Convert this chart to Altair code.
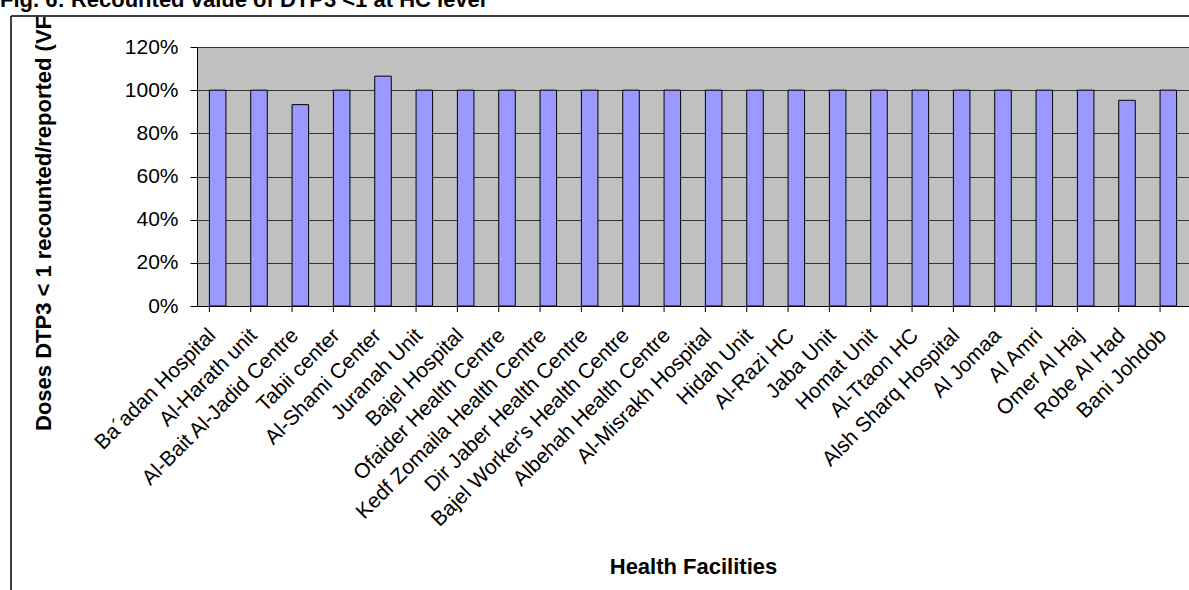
import altair as alt
import pandas as pd

FACILITIES = [
    "Ba´adan Hospital", "Al-Harath unit", "Al-Bait Al-Jadid Centre", "Tabii center",
    "Al-Shami Center", "Juranah Unit", "Bajel Hospital", "Ofaider Health Centre",
    "Kedf Zomaila Health Centre", "Dir Jaber Health Centre", "Bajel Worker's Health Centre",
    "Albehah Health Centre", "Al-Misrakh Hospital", "Hidah Unit", "Al-Razi HC", "Jaba Unit",
    "Homat Unit", "Al-Ttaon HC", "Alsh Sharq Hospital", "Al Jomaa", "Al Amri",
    "Omer Al Haj", "Robe Al Had", "Bani Johdob",
]
RATIO = [1.00, 1.00, 0.933, 1.00, 1.065, 1.00, 1.00, 1.00, 1.00, 1.00, 1.00, 1.00,
         1.00, 1.00, 1.00, 1.00, 1.00, 1.00, 1.00, 1.00, 1.00, 1.00, 0.953, 1.00]
Y_TICKS = [0, 0.2, 0.4, 0.6, 0.8, 1.0, 1.2]
FIG_TITLE = "Fig. 6: Recounted value of DTP3 <1 at HC level"
Y_TITLE = "Doses DTP3 < 1 recounted/reported (VF)"
X_TITLE = "Health Facilities"

FONT = "Liberation Sans"
W, H = 992, 259

df = pd.DataFrame({"facility": FACILITIES, "ratio": RATIO})
one = pd.DataFrame({"t": [0]})

xscale = alt.Scale(paddingInner=0.6, paddingOuter=0.3)
xaxis = alt.Axis(title=X_TITLE, labelAngle=-45, labelAlign="right",
                 labelBaseline="middle", labelPadding=26, labelOffset=-5, labelFontSize=21,
                 labelFont=FONT, labelColor="#000000", ticks=False,
                 domainColor="#000000", labelLimit=0,
                 titleFont=FONT, titleFontSize=22, titleFontWeight="bold",
                 titleColor="#000000", titleBaseline="alphabetic", titleY=267)

bars = alt.Chart(df).mark_bar(color="#9999FF", stroke="#000000", strokeWidth=1).encode(
    x=alt.X("facility:N", sort=FACILITIES, scale=xscale, axis=xaxis),
    y=alt.Y("ratio:Q", scale=alt.Scale(domain=[0, 1.2], nice=False),
            axis=alt.Axis(title=None, values=Y_TICKS, format=".0%", labelFontSize=21,
                          labelFont=FONT, labelColor="#000000", tickSize=7,
                          tickColor="#000000", domainColor="#000000", labelPadding=12,
                          grid=True, gridColor="#333333", gridWidth=1)),
)

ticks = alt.Chart(df).mark_rule(color="#000000", strokeWidth=1).encode(
    x=alt.X("facility:N", sort=FACILITIES, bandPosition=0, scale=xscale, axis=xaxis),
    y=alt.value(H), y2=alt.value(H + 6),
)

ytitle = alt.Chart(one).mark_text(
    text=Y_TITLE, angle=270, align="left", baseline="middle",
    font=FONT, fontSize=22, fontWeight="bold", color="#000000",
).encode(x=alt.value(-153), y=alt.value(384))

cover = alt.Chart(one).mark_rect(color="#FFFFFF").encode(
    x=alt.value(-197), x2=alt.value(-100), y=alt.value(-47), y2=alt.value(-31.5)
)

frame_left = alt.Chart(one).mark_rule(color="#000000", strokeWidth=1.5).encode(
    x=alt.value(-186), y=alt.value(-31), y2=alt.value(H + 284)
)
frame_top = alt.Chart(one).mark_rule(color="#000000", strokeWidth=1.5).encode(
    y=alt.value(-31), x=alt.value(-186), x2=alt.value(W)
)

ftitle = alt.Chart(one).mark_text(
    text=FIG_TITLE, align="left", baseline="alphabetic",
    font=FONT, fontSize=22, fontWeight="bold", color="#000000",
).encode(x=alt.value(-197), y=alt.value(-40))

chart = alt.layer(bars, ticks, ytitle, cover, frame_left, frame_top, ftitle).properties(
    width=W, height=H,
    autosize=alt.AutoSizeParams(type="none"),
    padding={"left": 197, "top": 47, "right": 0, "bottom": 284},
    background="#FFFFFF",
).configure_view(fill="#C0C0C0", stroke=None)

chart.save("out.html", embed_options={"renderer": "svg", "actions": False})
